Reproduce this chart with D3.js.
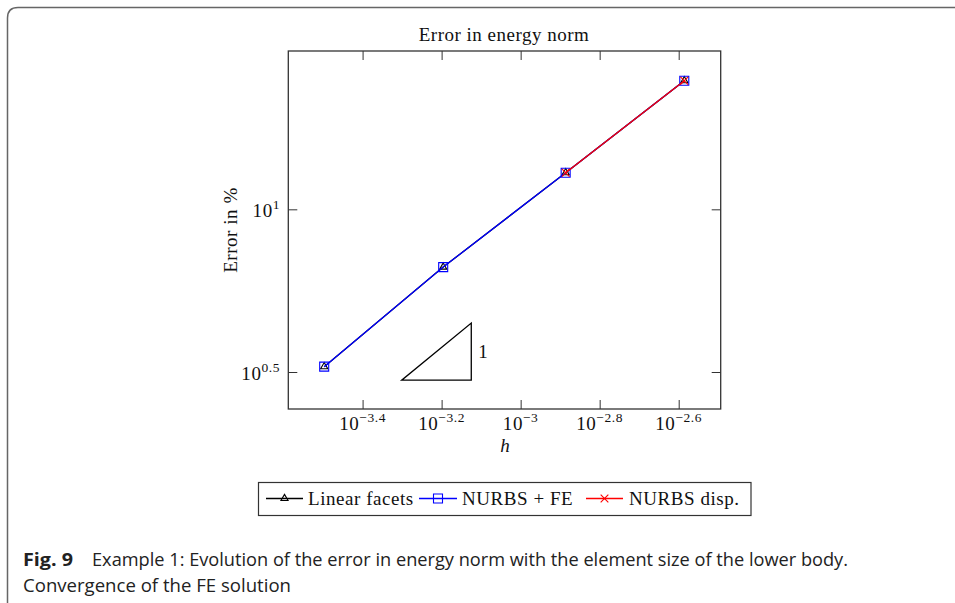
<!DOCTYPE html>
<html>
<head>
<meta charset="utf-8">
<script src="https://cdn.jsdelivr.net/npm/d3@7"></script>
<style>
  html, body { margin: 0; padding: 0; background: #fff; }
  svg { display: block; }
  .serif { font-family: "Liberation Serif", "Times New Roman", serif; fill: #111; }
  .cap { font-family: "Open Sans", "Noto Sans", sans-serif; fill: #222; }
</style>
</head>
<body>
<svg id="chart" width="955" height="603"></svg>
<script>
// Element size h and relative error in energy norm (%)
const hValues       = [3.183e-4, 6.368e-4, 1.300e-3, 2.595e-3];
const linearFacets  = [3.284, 6.645, 12.96, 24.85];
const nurbsFE       = [3.284, 6.645, 12.96, 24.85];
const nurbsDisp     = [null, null, 12.96, 24.85];

// Axis ticks (log10 exponents) and their labels
const xTickExp    = [-3.4, -3.2, -3, -2.8, -2.6];
const xTickLabels = ["\u22123.4", "\u22123.2", "\u22123", "\u22122.8", "\u22122.6"];
const yTickExp    = [0.5, 1];
const yTickLabels = ["0.5", "1"];

// Slope-1 reference triangle (corners in data units)
const slopeH   = [5.0e-4, 7.5e-4];
const slopeErr = [2.985, 4.47];
const slopeLabel = "1";

const legendNames = ["Linear facets", "NURBS + FE", "NURBS disp."];
const seriesColors = ["#000000", "#0000ff", "#ff0000"];

const svg = d3.select("#chart");

// Card frame
svg.append("path")
  .attr("d", "M7.5,603 V18 Q7.5,7.5 18,7.5 H955")
  .attr("fill", "none").attr("stroke", "#666").attr("stroke-width", 1.5);

const plot = { left: 288.3, right: 720.7, top: 51, bottom: 409 };

const x = d3.scaleLog()
  .domain([Math.pow(10, -3.588), Math.pow(10, -2.4937)])
  .range([plot.left, plot.right]);
const y = d3.scaleLog()
  .domain([Math.pow(10, 0.3863), Math.pow(10, 1.4866)])
  .range([plot.bottom, plot.top]);

const xTicks = xTickExp.map(e => Math.pow(10, e));
const yTicks = yTickExp.map(e => Math.pow(10, e));
const tickLen = 9;

function styleAxis(g) {
  g.select(".domain").remove();
  g.selectAll(".tick line").attr("stroke", "#333").attr("stroke-width", 1);
  g.selectAll(".tick text").remove();
}

// Inward ticks on all four sides
svg.append("g").attr("transform", `translate(0,${plot.bottom})`)
  .call(d3.axisBottom(x).tickValues(xTicks).tickSize(-tickLen)).call(styleAxis);
svg.append("g").attr("transform", `translate(0,${plot.top})`)
  .call(d3.axisTop(x).tickValues(xTicks).tickSize(-tickLen)).call(styleAxis);
svg.append("g").attr("transform", `translate(${plot.left},0)`)
  .call(d3.axisLeft(y).tickValues(yTicks).tickSize(-tickLen)).call(styleAxis);
svg.append("g").attr("transform", `translate(${plot.right},0)`)
  .call(d3.axisRight(y).tickValues(yTicks).tickSize(-tickLen)).call(styleAxis);

// Plot frame
svg.append("rect")
  .attr("x", plot.left).attr("y", plot.top)
  .attr("width", plot.right - plot.left).attr("height", plot.bottom - plot.top)
  .attr("fill", "none").attr("stroke", "#333").attr("stroke-width", 1.3);

// Tick labels as 10^exponent
const fs = 19, ls = 0.55, supFs = 13.5;
xTicks.forEach((v, i) => {
  const t = svg.append("text").attr("class", "serif")
    .attr("x", x(v)).attr("y", 430).attr("text-anchor", "middle")
    .style("font-size", fs + "px").style("letter-spacing", ls + "px");
  t.append("tspan").text("10");
  t.append("tspan").attr("dy", -8).style("font-size", supFs + "px").text(xTickLabels[i]);
});
yTicks.forEach((v, i) => {
  const t = svg.append("text").attr("class", "serif")
    .attr("x", 280).attr("y", y(v) + 7.5).attr("text-anchor", "end")
    .style("font-size", fs + "px").style("letter-spacing", ls + "px");
  t.append("tspan").text("10");
  t.append("tspan").attr("dy", -8).style("font-size", supFs + "px").text(yTickLabels[i]);
});

// Title and axis labels
svg.append("text").attr("class", "serif")
  .attr("x", 504).attr("y", 40.5).attr("text-anchor", "middle")
  .style("font-size", fs + "px").style("letter-spacing", "0.5px")
  .text("Error in energy norm");
svg.append("text").attr("class", "serif")
  .attr("x", 505).attr("y", 452).attr("text-anchor", "middle")
  .style("font-size", fs + "px").style("font-style", "italic")
  .text("h");
svg.append("text").attr("class", "serif")
  .attr("transform", `translate(237,${(plot.top + plot.bottom) / 2}) rotate(-90)`)
  .attr("text-anchor", "middle")
  .style("font-size", fs + "px").style("letter-spacing", ls + "px")
  .text("Error in %");

// Slope triangle
const triPts = [
  [x(slopeH[0]), y(slopeErr[0])],
  [x(slopeH[1]), y(slopeErr[0])],
  [x(slopeH[1]), y(slopeErr[1])]
];
svg.append("path")
  .attr("d", d3.line()(triPts) + "Z")
  .attr("fill", "none").attr("stroke", "#000").attr("stroke-width", 1.3);
svg.append("text").attr("class", "serif")
  .attr("x", x(slopeH[1]) + 7)
  .attr("y", (y(slopeErr[0]) + y(slopeErr[1])) / 2 + 6.5)
  .style("font-size", fs + "px").text(slopeLabel);

// Series
const line = d3.line()
  .defined(d => d[1] != null)
  .x(d => x(d[0])).y(d => y(d[1]));

const triSym = d3.symbol(d3.symbolTriangle, 22);
const sqSym = d3.symbol(d3.symbolSquare, 81);
const xSym = d3.symbol(d3.symbolTimes, 40);
const symbols = [triSym, sqSym, xSym];

const series = [linearFacets, nurbsFE, nurbsDisp];
series.forEach((vals, si) => {
  const pts = hValues.map((h, i) => [h, vals[i]]);
  svg.append("path").attr("d", line(pts))
    .attr("fill", "none").attr("stroke", seriesColors[si]).attr("stroke-width", 1.3);
  svg.selectAll(null).data(pts.filter(d => d[1] != null)).enter()
    .append("path")
    .attr("transform", d => `translate(${x(d[0])},${y(d[1])})`)
    .attr("d", symbols[si]())
    .attr("fill", "none").attr("stroke", seriesColors[si]).attr("stroke-width", 1.1);
});

// Legend
svg.append("rect")
  .attr("x", 258.5).attr("y", 482.5).attr("width", 492.5).attr("height", 33)
  .attr("fill", "#fff").attr("stroke", "#333").attr("stroke-width", 1.2);
const legendX = [[266, 303, 308], [419, 457, 462], [586, 623, 629]];
legendNames.forEach((name, i) => {
  const [x0, x1, tx] = legendX[i];
  const ly = 498.5;
  svg.append("line").attr("x1", x0).attr("x2", x1).attr("y1", ly).attr("y2", ly)
    .attr("stroke", seriesColors[i]).attr("stroke-width", 1.3);
  svg.append("path").attr("transform", `translate(${(x0 + x1) / 2},${ly})`)
    .attr("d", symbols[i]())
    .attr("fill", "none").attr("stroke", seriesColors[i]).attr("stroke-width", 1.1);
  svg.append("text").attr("class", "serif")
    .attr("x", tx).attr("y", 505)
    .style("font-size", fs + "px").style("letter-spacing", ls + "px")
    .text(name);
});

// Caption
const cap1 = svg.append("text").attr("class", "cap").attr("y", 566).style("font-size", "18px");
cap1.append("tspan").attr("x", 23).style("font-weight", "bold")
  .attr("textLength", 50).attr("lengthAdjust", "spacingAndGlyphs").text("Fig. 9");
cap1.append("tspan").attr("x", 92)
  .attr("textLength", 756).attr("lengthAdjust", "spacingAndGlyphs")
  .text("Example 1: Evolution of the error in energy norm with the element size of the lower body.");
svg.append("text").attr("class", "cap").attr("x", 23).attr("y", 592)
  .style("font-size", "18px")
  .attr("textLength", 268).attr("lengthAdjust", "spacingAndGlyphs")
  .text("Convergence of the FE solution");
</script>
</body>
</html>
